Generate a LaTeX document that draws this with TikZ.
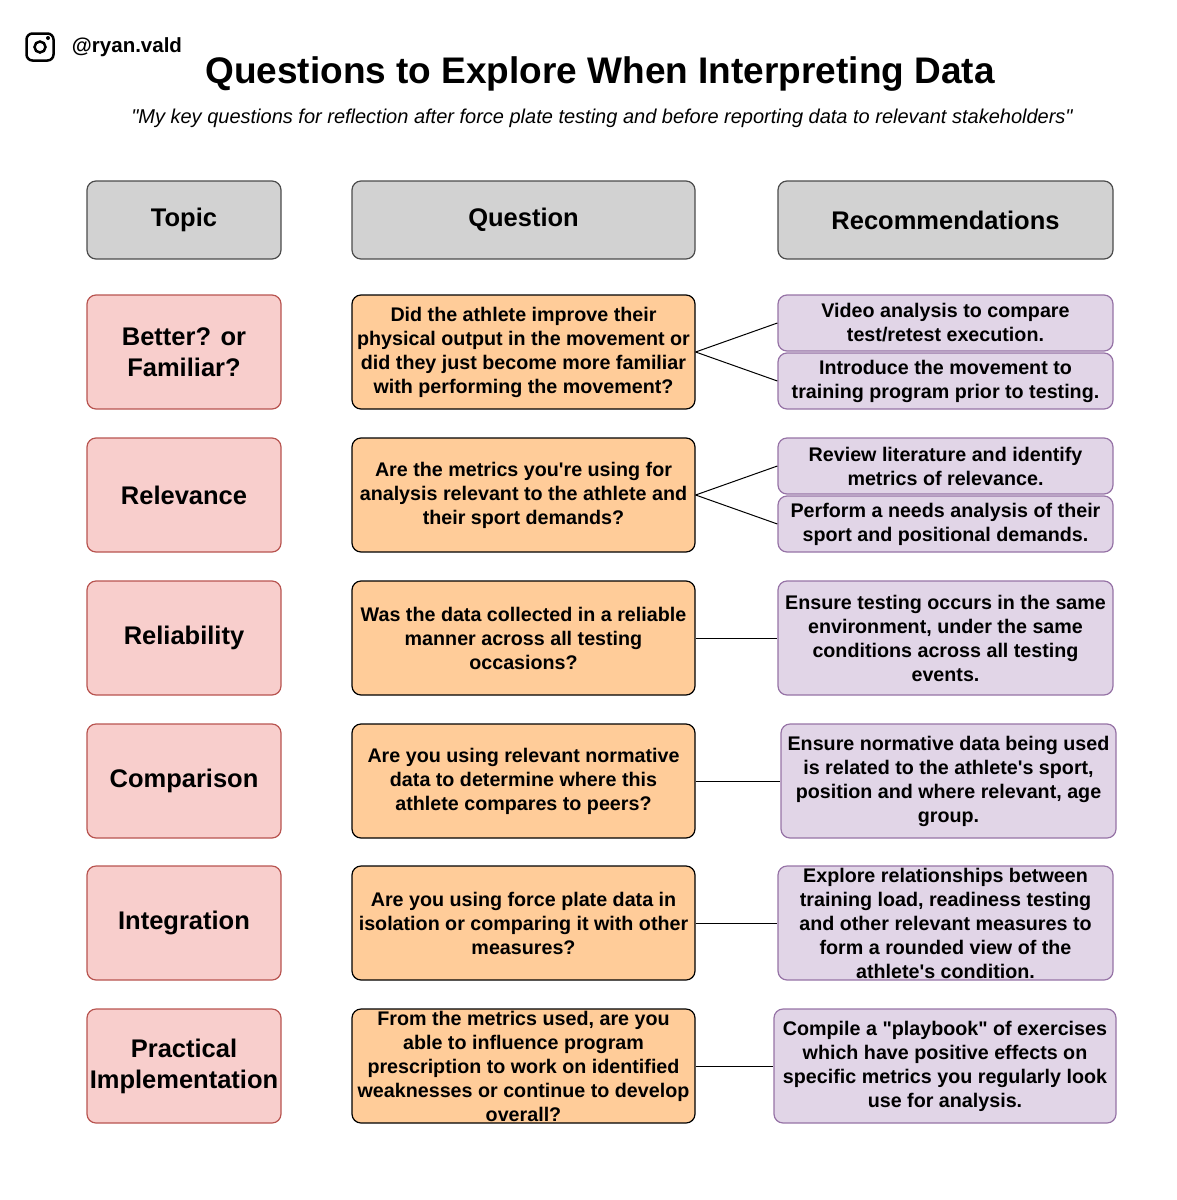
\documentclass[tikz,border=0pt]{standalone}
\usepackage{fontspec}
\setmainfont{Liberation Sans}[Ligatures=TeXOff]
\begin{document}
\begin{tikzpicture}[x=1pt,y=-1pt,
 base/.style={draw,rounded corners=9pt,line width=1.2pt,align=center,inner sep=0pt,font=\bfseries\fontsize{19.7}{24}\selectfont},
 hdr/.style={base,fill=gray!35,draw=black!70,font=\bfseries\fontsize{25.5}{30}\selectfont},
 topic/.style={base,fill={rgb,255:red,248;green,206;blue,204},draw={rgb,255:red,184;green,84;blue,80},font=\bfseries\fontsize{25.5}{31}\selectfont},
 ques/.style={base,fill={rgb,255:red,255;green,204;blue,153},draw=black},
 rec/.style={base,fill={rgb,255:red,225;green,213;blue,231},draw={rgb,255:red,150;green,115;blue,166}},
 conn/.style={line width=1pt}]
\useasboundingbox (0,0) rectangle (1176,1200);
\newcommand{\bx}[7]{\node[#1,minimum width=#4-#2,minimum height=#5-#3] (#6) at ({(#2+#4)/2},{(#3+#5)/2}) {#7};}
% header
\node[draw,line width=2.5pt,rounded corners=6pt,minimum size=27pt] (ig) at (40,47) {};
\node[draw,circle,line width=2.5pt,minimum size=11pt,inner sep=0] (igc) at (40,47) {};
\fill (48,38) circle (2pt);
\node[font=\bfseries\fontsize{20.5}{22}\selectfont] (handle) at (127,47) {@ryan.vald};
\node[font=\bfseries\fontsize{37}{42}\selectfont] (title) at (600,74) {Questions to Explore When Interpreting Data};
\node[font=\itshape\fontsize{20}{24}\selectfont] (sub) at (602,118) {"My key questions for reflection after force plate testing and before reporting data to relevant stakeholders"};
\bx{hdr}{87}{181}{281}{259}{h1}{Topic}
\bx{hdr}{352}{181}{695}{259}{h2}{Question}
\bx{hdr}{778}{181}{1113}{259}{h3}{Recommendations}
% row 1
\bx{topic}{87}{295}{281}{409}{t1}{Better? or\\Familiar?}
\bx{ques}{352}{295}{695}{409}{q1}{Did the athlete improve their\\physical output in the movement or\\did they just become more familiar\\with performing the movement?}
\bx{rec}{778}{295}{1113}{351}{r1a}{Video analysis to compare\\test/retest execution.}
\bx{rec}{778}{353}{1113}{409}{r1b}{Introduce the movement to\\training program prior to testing.}
% row 2
\bx{topic}{87}{438}{281}{552}{t2}{Relevance}
\bx{ques}{352}{438}{695}{552}{q2}{Are the metrics you're using for\\analysis relevant to the athlete and\\their sport demands?}
\bx{rec}{778}{438}{1113}{494}{r2a}{Review literature and identify\\metrics of relevance.}
\bx{rec}{778}{496}{1113}{552}{r2b}{Perform a needs analysis of their\\sport and positional demands.}
% row 3
\bx{topic}{87}{581}{281}{695}{t3}{Reliability}
\bx{ques}{352}{581}{695}{695}{q3}{Was the data collected in a reliable\\manner across all testing\\occasions?}
\bx{rec}{778}{581}{1113}{695}{r3}{Ensure testing occurs in the same\\environment, under the same\\conditions across all testing\\events.}
% row 4
\bx{topic}{87}{724}{281}{838}{t4}{Comparison}
\bx{ques}{352}{724}{695}{838}{q4}{Are you using relevant normative\\data to determine where this\\athlete compares to peers?}
\bx{rec}{781}{724}{1116}{838}{r4}{Ensure normative data being used\\is related to the athlete's sport,\\position and where relevant, age\\group.}
% row 5
\bx{topic}{87}{866}{281}{980}{t5}{Integration}
\bx{ques}{352}{866}{695}{980}{q5}{Are you using force plate data in\\isolation or comparing it with other\\measures?}
\bx{rec}{778}{866}{1113}{980}{r5}{Explore relationships between\\training load, readiness testing\\and other relevant measures to\\form a rounded view of the\\athlete's condition.}
% row 6
\bx{topic}{87}{1009}{281}{1123}{t6}{Practical\\Implementation}
\bx{ques}{352}{1009}{695}{1123}{q6}{From the metrics used, are you\\able to influence program\\prescription to work on identified\\weaknesses or continue to develop\\overall?}
\bx{rec}{774}{1009}{1116}{1123}{r6}{Compile a "playbook" of exercises\\which have positive effects on\\specific metrics you regularly look\\use for analysis.}
% connectors
\draw[conn] (q1.east) -- (r1a.west); \draw[conn] (q1.east) -- (r1b.west);
\draw[conn] (q2.east) -- (r2a.west); \draw[conn] (q2.east) -- (r2b.west);
\draw[conn] (q3.east) -- (r3.west);
\draw[conn] (q4.east) -- (r4.west);
\draw[conn] (q5.east) -- (r5.west);
\draw[conn] (q6.east) -- (r6.west);
\end{tikzpicture}
\end{document}
